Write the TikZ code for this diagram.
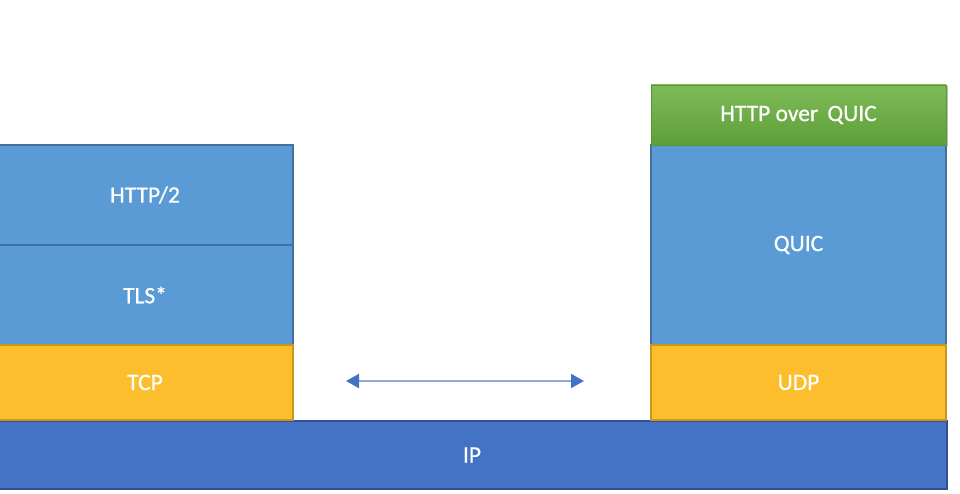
\documentclass[tikz,border=0pt]{standalone}
\usepackage{fontspec}
\setmainfont{Carlito}
\newfontfamily\labfont{Carlito}[FakeBold=0.6]
\usetikzlibrary{arrows.meta,shadows}
\definecolor{lblue}{HTML}{5B9BD5}
\definecolor{lblueb}{HTML}{41719C}
\definecolor{gold}{HTML}{FDBE2E}
\definecolor{goldb}{HTML}{C9961C}
\definecolor{ipblue}{HTML}{4472C4}
\definecolor{ipblueb}{HTML}{2F528F}
\definecolor{gtop}{HTML}{7EBB58}
\definecolor{gbot}{HTML}{5E9F39}
\definecolor{gbord}{HTML}{5A9436}
\definecolor{arrline}{HTML}{8FAADC}
\tikzset{
  layer/.style={rectangle, inner sep=0pt, outer sep=0pt, line width=1.5pt,
    text=white, font=\labfont\fontsize{23.5}{27}\selectfont, anchor=north west},
  bluelayer/.style={layer, fill=lblue, draw=lblueb},
  goldlayer/.style={layer, fill=gold, draw=goldb},
  iplayer/.style={layer, fill=ipblue, draw=ipblueb},
  greenlayer/.style={layer, top color=gtop, bottom color=gbot, draw=gbord, line width=0.8pt,
    drop shadow={shadow xshift=1.5pt, shadow yshift=-1.5pt, opacity=0.25, fill=black}},
  duplex/.style={line width=2pt, draw=arrline,
    {Triangle[length=13pt,width=14pt,color=ipblue]}-{Triangle[length=13pt,width=14pt,color=ipblue]}}
}
\begin{document}
\begin{tikzpicture}[x=1pt,y=-1pt]
\useasboundingbox (0,0) rectangle (960,494);
% IP base
\node[iplayer, minimum width=950pt, minimum height=68pt] (ip) at (-3,421) {IP};
% left stack
\node[bluelayer, minimum width=296pt, minimum height=100pt] (http2) at (-3,145) {HTTP/2};
\node[bluelayer, minimum width=296pt, minimum height=100pt] (tls) at (-3,245) {TLS*};
\node[goldlayer, minimum width=296pt, minimum height=75pt] (tcp) at (-3,345) {TCP};
% right stack
\node[bluelayer, minimum width=295pt, minimum height=200pt] (quic) at (651,145) {QUIC};
\node[goldlayer, minimum width=295pt, minimum height=75pt] (udp) at (651,345) {UDP};
\node[greenlayer, minimum width=295pt, minimum height=60pt] (hoq) at (651,85) {HTTP over\ \,QUIC};
% arrow
\coordinate (aL) at (346,381);
\coordinate (aR) at (584,381);
\draw[duplex] (aL) -- (aR);
\end{tikzpicture}
\end{document}
